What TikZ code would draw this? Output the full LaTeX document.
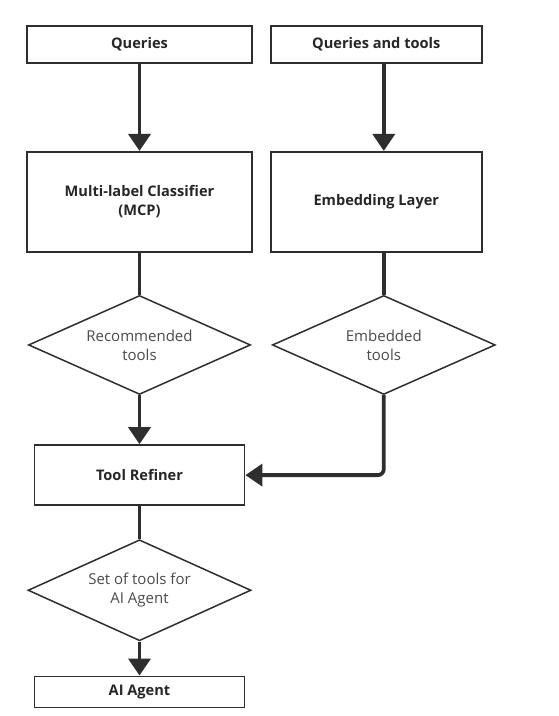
\documentclass[tikz,border=0pt]{standalone}
\usepackage{fontspec}
\setmainfont{Open Sans}
\usepackage{xcolor}
\usetikzlibrary{arrows.meta,positioning,shapes.geometric}

\definecolor{linegray}{HTML}{2E2E2E}
\definecolor{textgray}{HTML}{4A4A4A}

\begin{document}
\begin{tikzpicture}[
  x=1pt, y=-1pt,
  font=\fontsize{15}{19}\selectfont,
  box/.style={draw=linegray, line width=1.8pt, align=center, inner sep=2pt, font=\fontsize{14.6}{19}\selectfont\bfseries, text=black!85},
  decision/.style={draw=linegray, diamond, aspect=2.2, line width=1.5pt, align=center, inner sep=0pt, text=textgray},
  arrow/.style={-{Triangle[length=17pt, width=22pt]}, line width=3.8pt, draw=linegray},
  link/.style={line width=3.8pt, draw=linegray}
]
\useasboundingbox (0,0) rectangle (558,716);
\node[box, minimum width=225pt, minimum height=37pt] (q) at (139.5,44.5) {Queries};
\node[box, minimum width=211pt, minimum height=37pt, right=17pt of q] (qt) {Queries and tools};
\node[box, minimum width=225pt, minimum height=100pt, below=87pt of q] (cls) {Multi-label Classifier\\(MCP)};
\node[box, minimum width=211pt, minimum height=100pt, below=87pt of qt] (emb) {Embedding Layer};
\node[decision, minimum width=222pt, minimum height=99pt, below=42pt of cls] (rec) {Recommended\\tools};
\node[decision, minimum width=223pt, minimum height=99pt, below=42pt of emb, xshift=7.5pt] (embd) {Embedded\\tools};
\node[box, minimum width=210pt, minimum height=60pt, below=49pt of rec] (ref) {Tool Refiner};
\node[decision, minimum width=223pt, minimum height=101pt, below=33pt of ref] (set) {Set of tools for\\AI Agent};
\node[box, minimum width=210pt, minimum height=31pt, below=34pt of set] (agent) {AI Agent};
\draw[arrow] (q) -- (cls);
\draw[arrow] (qt.south -| embd) -- (emb.north -| embd);
\draw[link] (cls) -- (rec);
\draw[link] (emb.south -| embd) -- (embd);
\draw[arrow] (rec) -- (ref);
\draw[arrow, rounded corners=6pt] (embd.south) |- (ref.east);
\draw[link] (ref) -- (set);
\draw[arrow] (set) -- (agent);
\end{tikzpicture}
\end{document}
